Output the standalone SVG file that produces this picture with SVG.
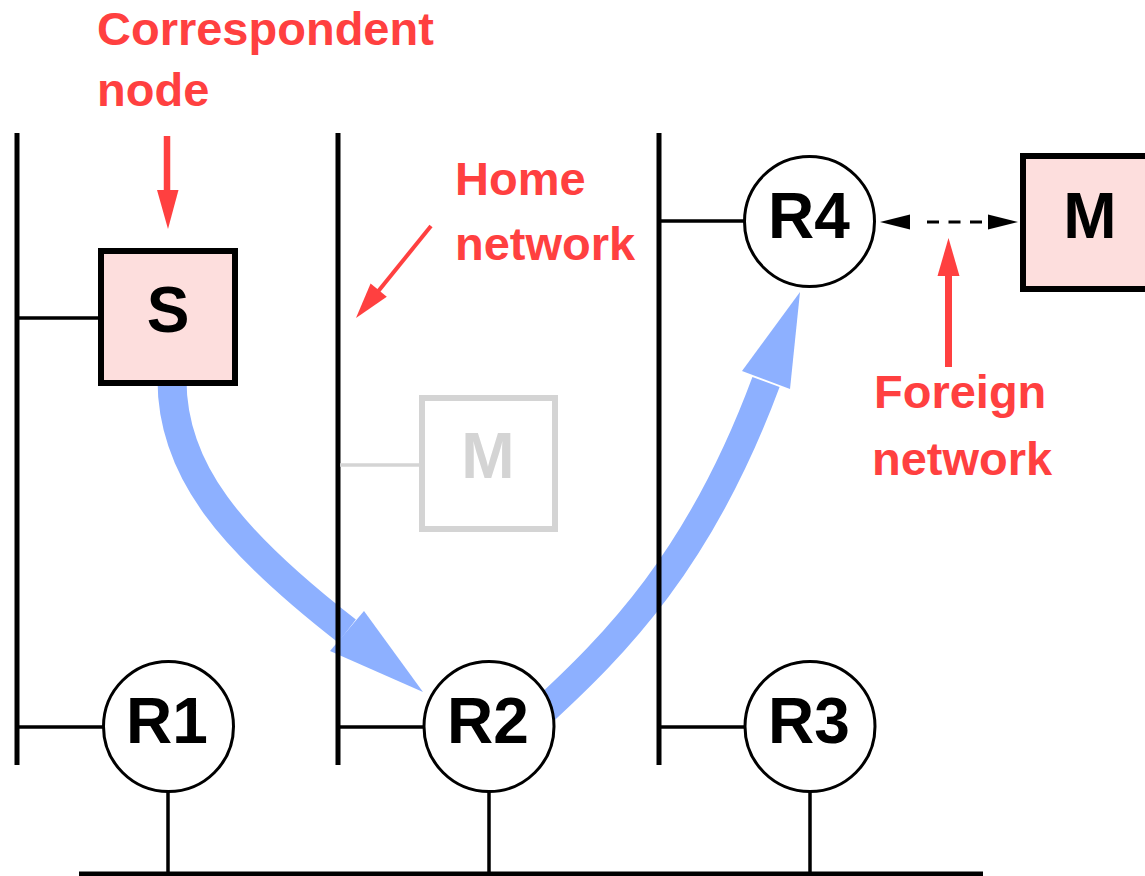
<svg xmlns="http://www.w3.org/2000/svg" width="1145" height="876" viewBox="0 0 1145 876">
  <style>
    .wire { stroke: #000; fill: none; }
    .bar { stroke-width: 5; }
    .stub { stroke-width: 3.5; }
    .ghost { stroke: #d4d4d4; }
    .router circle { fill: #fff; stroke: #000; stroke-width: 3; }
    .host rect { fill: #fddedd; stroke: #000; stroke-width: 6; }
    .lbl { font-family: "Liberation Sans", Arial, Helvetica, sans-serif; font-weight: bold; font-size: 64px; text-anchor: middle; fill: #000; }
    .note { font-family: "Liberation Sans", Arial, Helvetica, sans-serif; font-weight: bold; font-size: 47px; fill: #ff4040; }
    .flow { stroke: #8db0ff; stroke-width: 29; fill: none; }
    .flowhead { fill: #8db0ff; }
    .red { stroke: #ff4040; fill: none; }
    .redhead { fill: #ff4040; }
  </style>

  <!-- packet path S -> R2 -> R4 -->
  <g id="connectors">
    <path class="flow" d="M172 380 C172 470 230 540 347 631"/>
    <polygon class="flowhead" points="423,692 364,611 330,651"/>
    <path class="flow" d="M540 714 C615 645 700 560 766 382"/>
    <polygon class="flowhead" points="800,292 742,371 790,389"/>

    <!-- dashed wireless link R4 <-> M -->
    <g id="wireless">
      <path d="M927 222 H982" stroke="#000" stroke-width="3" stroke-dasharray="12 9.5"/>
      <polygon points="880,222 910,214.5 910,229.5" fill="#000"/>
      <polygon points="1018,222 988,214.5 988,229.5" fill="#000"/>
    </g>
  </g>

  <!-- LAN segments and backbone -->
  <g id="networks" class="wire">
    <line class="bar" x1="17" y1="133" x2="17" y2="765"/>
    <line class="bar" x1="338" y1="133" x2="338" y2="765"/>
    <line class="bar" x1="659" y1="133" x2="659" y2="765"/>
    <line class="bar" x1="79" y1="874" x2="983" y2="874"/>
    <line class="stub" x1="17" y1="318" x2="100" y2="318"/>
    <line class="stub ghost" x1="340" y1="465" x2="421" y2="465"/>
    <line class="stub" x1="17" y1="727" x2="104" y2="727"/>
    <line class="stub" x1="338" y1="727" x2="425" y2="727"/>
    <line class="stub" x1="659" y1="727" x2="746" y2="727"/>
    <line class="stub" x1="659" y1="221" x2="745" y2="221"/>
    <line class="stub" x1="168" y1="792" x2="168" y2="874"/>
    <line class="stub" x1="489" y1="792" x2="489" y2="874"/>
    <line class="stub" x1="810" y1="792" x2="810" y2="874"/>
  </g>

  <!-- hosts -->
  <g id="node-S" class="host">
    <rect x="101" y="251" width="134" height="132"/>
    <text class="lbl" x="168" y="332">S</text>
  </g>
  <g id="node-M-home">
    <rect x="422" y="398" width="133" height="131" fill="#fff" stroke="#d4d4d4" stroke-width="6"/>
    <text class="lbl" x="488" y="478" fill="#d4d4d4" style="fill:#d4d4d4">M</text>
  </g>
  <g id="node-M" class="host">
    <rect x="1023" y="156" width="140" height="133"/>
    <text class="lbl" x="1090" y="238">M</text>
  </g>

  <!-- routers -->
  <g id="node-R1" class="router">
    <circle cx="168.5" cy="726.5" r="65"/>
    <text class="lbl" x="167" y="743">R1</text>
  </g>
  <g id="node-R2" class="router">
    <circle cx="489" cy="726.5" r="65"/>
    <text class="lbl" x="488" y="743">R2</text>
  </g>
  <g id="node-R3" class="router">
    <circle cx="810" cy="726.5" r="65"/>
    <text class="lbl" x="809" y="743">R3</text>
  </g>
  <g id="node-R4" class="router">
    <circle cx="809.5" cy="221.5" r="65"/>
    <text class="lbl" x="809" y="238">R4</text>
  </g>

  <!-- annotations -->
  <g id="label-correspondent">
    <text class="note" x="97" y="45">Correspondent</text>
    <text class="note" x="97" y="106">node</text>
    <line class="red" x1="167" y1="136" x2="167" y2="194" stroke-width="6.5"/>
    <polygon class="redhead" points="157,190 178.5,190 168,229"/>
  </g>
  <g id="label-home">
    <text class="note" x="455" y="195">Home</text>
    <text class="note" x="455" y="260">network</text>
    <line class="red" x1="431" y1="226" x2="376" y2="294" stroke-width="4"/>
    <polygon class="redhead" points="356,318 370.6,283.5 386.8,296.7"/>
  </g>
  <g id="label-foreign">
    <text class="note" x="874" y="408">Foreign</text>
    <text class="note" x="872" y="475">network</text>
    <line class="red" x1="948.5" y1="367" x2="948.5" y2="272" stroke-width="7"/>
    <polygon class="redhead" points="948.5,238 959.5,276 937.5,276"/>
  </g>
</svg>
